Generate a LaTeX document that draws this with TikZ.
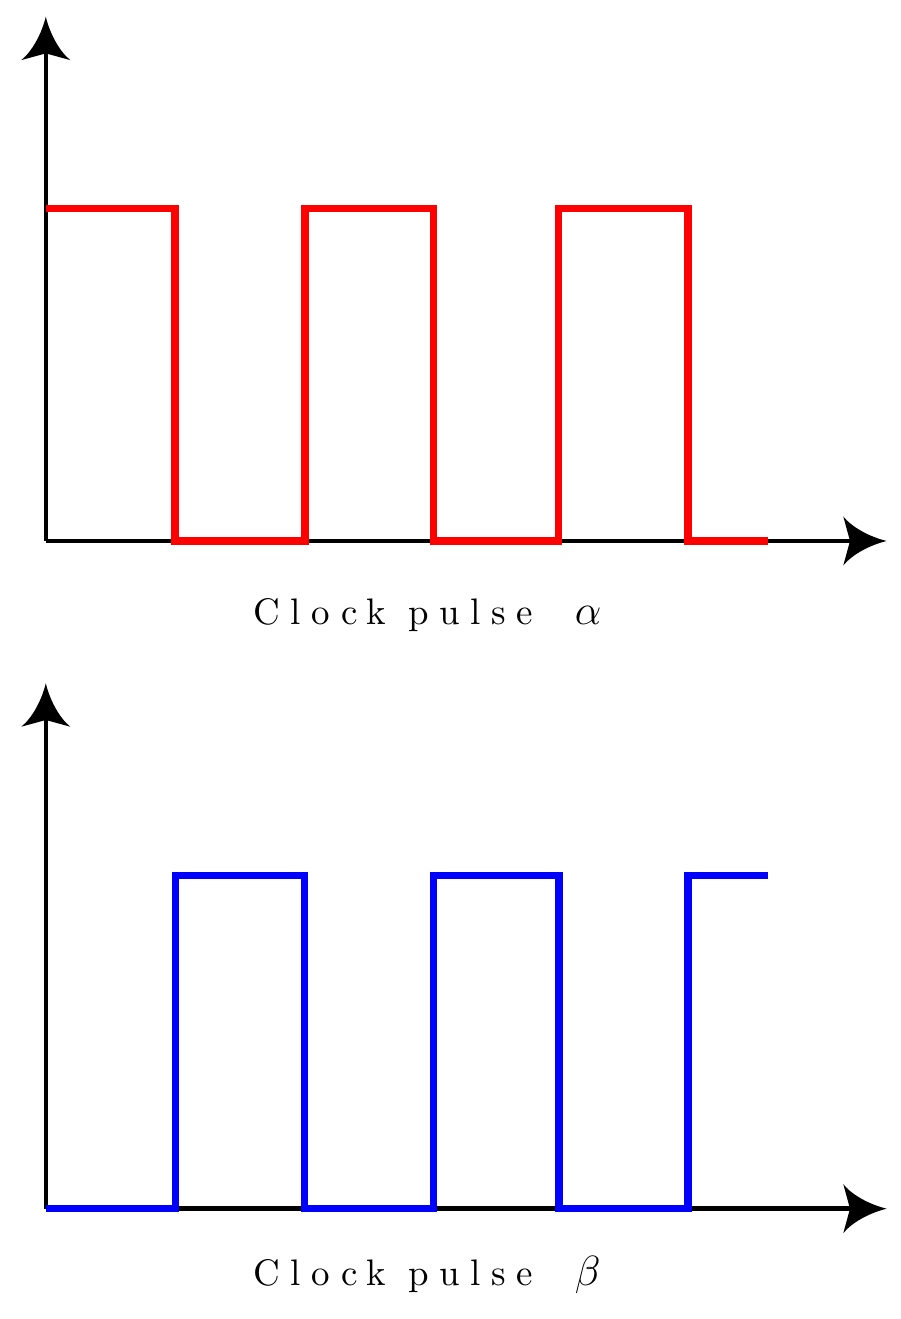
\documentclass[tikz,border=0pt]{standalone}
\usepackage{amsmath,amssymb}
\usepackage{fontspec}
\setmainfont{lmroman10-regular.otf}[LetterSpace=28]
\usepackage{tikz}
\usetikzlibrary{positioning,%
  arrows,%
  calc%
}

% Pfeilspitze mit hohlen Flanken
\pgfdeclarearrow{
  name = bigstealth,
  setup code = {
    \pgfarrowssettipend{0pt}
    \pgfarrowssetbackend{-12.35pt}
    \pgfarrowssetlineend{-10pt}
    \pgfarrowssetvisualbackend{-10.44pt}
  },
  drawing code = {
    \pgfpathmoveto{\pgfpointorigin}
    \pgfpathcurveto{\pgfqpoint{-5pt}{1.2pt}}{\pgfqpoint{-10pt}{4pt}}{\pgfqpoint{-12.35pt}{6.97pt}}
    \pgfpathlineto{\pgfqpoint{-10.44pt}{0pt}}
    \pgfpathlineto{\pgfqpoint{-12.35pt}{-6.97pt}}
    \pgfpathcurveto{\pgfqpoint{-10pt}{-4pt}}{\pgfqpoint{-5pt}{-1.2pt}}{\pgfpointorigin}
    \pgfpathclose
    \pgfusepathqfill
  }
}

\begin{document}
\begin{tikzpicture}
                    [
                        x=0.01cm, y=0.01cm,
                        axis/.style={line width=1.28pt, -bigstealth},
                        pulse/.style={line width=2.1pt, line join=miter},
                        caption/.style={anchor=base west, inner sep=0pt,
                            font=\fontsize{10.5}{12}\selectfont}
                    ]

                    % Platzhalter
                    \useasboundingbox (0,0) rectangle (900,1319);

                    % Achsen oben
                    \coordinate (o1) at (45.8,778);
                    \coordinate (x1) at (886.7,778);
                    \coordinate (y1) at (45.8,1302.3);

                    % Achsen unten
                    \coordinate (o2) at (45.8,110.3);
                    \coordinate (x2) at (886.7,110.3);
                    \coordinate (y2) at (45.8,635.7);

                    \draw[axis] (o1) -- (x1);
                    \draw[axis] (o1) -- (y1);
                    \draw[axis] (o2) -- (x2);
                    \draw[axis] (o2) -- (y2);

                    % Takt alpha
                    \draw[pulse, red] (45.8,1110.2) -| (175,778) -| (305,1110.2)
                        -| (433.7,778) -| (558.7,1110.2) -| (688,778) -- (767.7,778);

                    % Takt beta
                    \draw[pulse, blue] (45.8,110.2) -| (175.5,443.2) -| (304.7,110.2)
                        -| (433.7,443.2) -| (558.8,110.2) -| (688,443.2) -- (767.7,443.2);

                    \node[caption] (alpha) at (253,694)
                        {Clock pulse\hskip 12pt{\fontsize{12}{14}\selectfont$\alpha$}};
                    \node[caption] (beta) at (253,34)
                        {Clock pulse\hskip 12pt{\fontsize{12}{14}\selectfont$\beta$}};
                \end{tikzpicture}
\end{document}
